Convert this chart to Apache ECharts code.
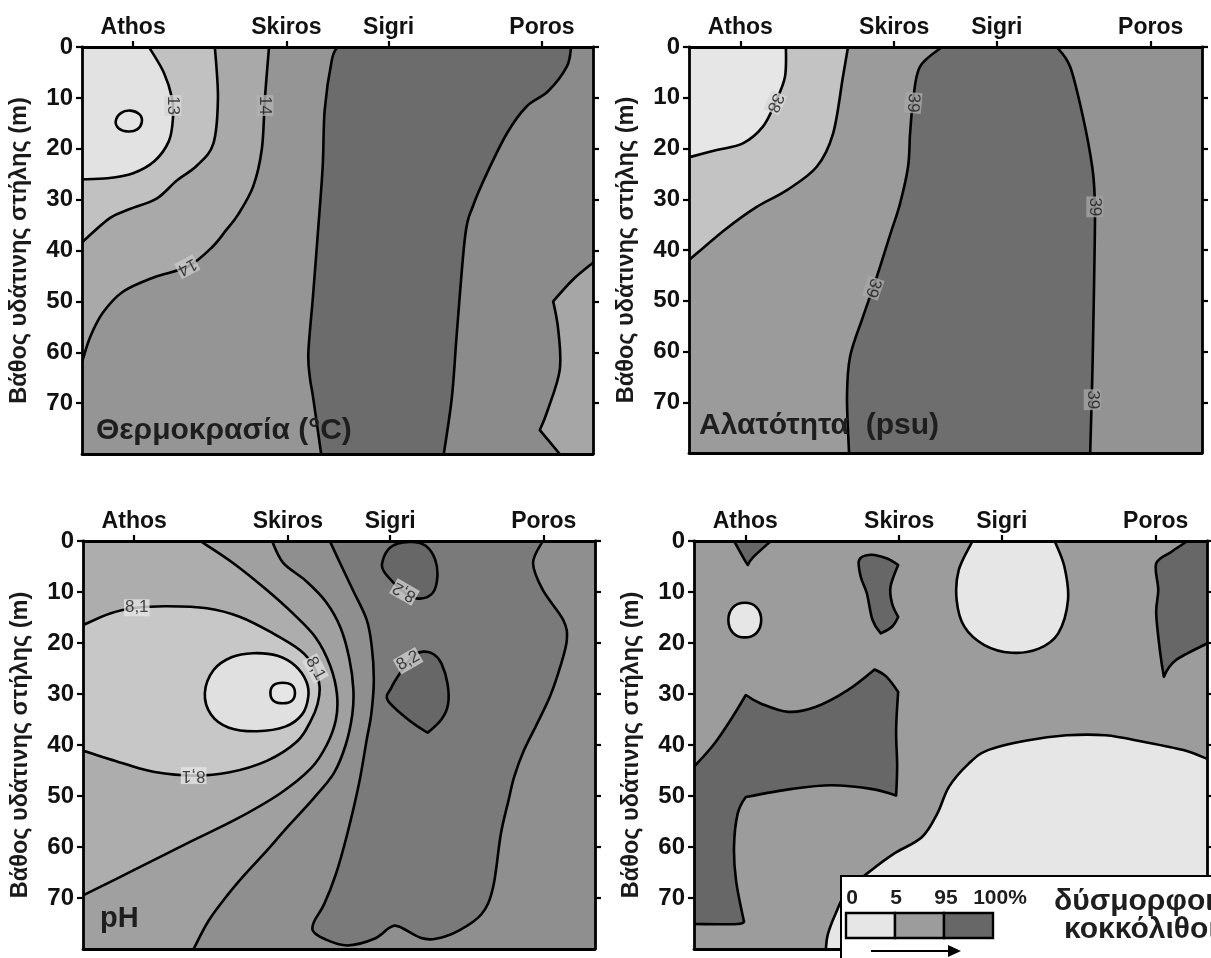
<!DOCTYPE html>
<html><head><meta charset="utf-8">
<script src="https://cdn.jsdelivr.net/npm/echarts@6/dist/echarts.min.js"></script>
<style>html,body{margin:0;padding:0;background:#fff}#c{width:1211px;height:958px}</style>
</head><body><div id="c"></div>
<script>
// ---------- axes ----------
const stations = ['Athos', 'Skiros', 'Sigri', 'Poros'];
const stationPos = [10, 40, 60, 90];
const depthTicks = [0, 10, 20, 30, 40, 50, 60, 70];
const depthTitle = 'Βάθος υδάτινης στήλης (m)';

// ---------- panel 1: temperature contours [x, depth] ----------
const temp13 = [[13.1,0],[16,5],[17.6,10],[17.8,14],[17,18.5],[14.2,22.4],[10,24.8],[5,25.8],[0,26]];
const temp13in = [[9.5,12.5],[11.3,13.3],[11.7,14.8],[10.8,16.2],[9,16.6],[7.2,16],[6.6,14.6],[7.6,13]];
const temp135 = [[26,0],[26.6,10],[25.7,19],[22.5,23.3],[18.5,26.3],[14.6,29.8],[9.5,31.8],[5.5,33.6],[0,38.4]];
const temp14 = [[36.6,0],[35.8,10],[35.2,20],[33.5,27.4],[30.5,33],[28.2,36],[25.5,39.3],[20.8,43.1],[14,45.3],[8,48.1],[4.1,52.2],[1.6,57],[0,62]];
const temp145 = [[50,0],[48.9,2.5],[47.5,12.3],[47.1,23.5],[46.2,36],[45.2,49],[44.3,60],[44.6,65],[45.2,68.7],[46.8,80]];
const temp15 = [[95.7,0],[94.9,3.8],[91.2,8.7],[87,11.7],[83.2,16.9],[79.3,24.7],[76.5,31.3],[75,37],[73.4,55.6],[72.4,68.7],[70.8,80]];
const temp145b = [[100,42.4],[96.1,45.7],[92.2,50,1],[93.2,55.6],[93.5,63.4],[91.2,71.2],[89.6,75.3,1],[93.5,80]];
const tempLabels = [['13',17.8,11.5,-90],['14',35.8,11.5,-90],['14',20.6,43.2,-152]];

// ---------- panel 2: salinity ----------
const sal38 = [[18.9,0],[18.7,5.9],[16.8,11],[14.4,15.7],[10.5,19],[5.4,20.3],[0.5,21.6],[0,21.7]];
const sal385 = [[31,0],[30,5.9],[28.1,17],[24.9,23.6],[19.1,28.2],[13.2,31.5],[7,36],[0,42]];
const sal39l = [[49.3,0],[45,3.9],[43.7,10.4],[43.1,17],[42.7,23.6],[41.1,31],[39.2,37],[36.6,45.3],[33.9,53.2],[31.4,61],[30.8,69],[31.2,80]];
const sal39r = [[71.7,0],[74.3,3.9],[76.8,13.8],[78.6,23.6],[79.1,30],[79.1,38],[78.8,55.8],[78.6,65.6],[78.2,80]];
const salLabels = [['38',16.8,11,-114],['39',43.7,11,-95],['39',35.9,47.5,-109],['39',79.1,31.5,-90],['39',78.6,69.5,-90]];

// ---------- panel 3: pH ----------
const phA = [[0,16.5],[5.3,14.2],[10.5,13.1],[16.4,12.8],[24.2,13.2],[30.7,14.9],[37.1,18.1],[42.4,21.4],[45,24.5],[46.2,28.5],[45.8,32],[44.5,35.2],[41.9,39.2],[35.9,43.1],[28.4,45.4],[21.6,46],[14,45.3],[8.1,43.7],[0,41.1]];
const phIn = [[23.8,29.8],[25.5,25.3],[29,22.8],[33.2,22],[38,22.5],[41.5,24.5],[43.6,27.5],[44,30.5],[42.8,34],[39.5,36.4],[34,37.3],[28.5,36.6],[25,34]];
const phCore = [[39,27.8],[40.8,28.3],[41.4,29.8],[40.8,31.3],[39,31.8],[37.2,31.3],[36.6,29.8],[37.2,28.3]];
const phB = [[22.9,0],[29.3,4.3],[35.9,9.6],[41,14.2],[45.5,19],[48.3,24.5],[49.6,30],[49.4,35],[47.6,40],[44.5,44.6],[38.5,49.5],[30,54.5],[20.9,59],[10,64.5],[0,69.5]];
const phC = [[36.9,0],[39.1,4.3],[43.5,7.8],[47.5,12],[50.3,17],[52,23],[52.8,29],[52.6,34],[51.3,40],[49,45.5],[45,50.5],[40,56],[35.9,60.7],[31.5,65.5],[28.4,69.2],[24.5,74.5],[21.6,80]];
const phDarkLeft = [[48.2,0],[50.2,4.3],[52.7,9.6],[55.4,15.4],[56.4,20.7],[56.8,27.3],[56.3,34],[55.4,39],[53.9,47.6],[51.6,57.5],[49.4,65.3],[47.1,71.2],[45.2,74.5],[44.9,76.4],[47.1,78]];
const phDarkRight = [[51.6,79.3],[56.9,78],[59.9,75.8],[61.7,75.6],[65.9,77.8],[68.9,78],[73.4,76.4],[77.9,73.1],[80.1,67.9],[81.6,57.5],[83.1,50.9],[84.2,46.3],[86.1,41.1],[88.6,36],[91.2,30.5],[93.2,24.7],[94.5,19.4],[93.8,15.5],[89.8,9.6],[87.9,4.3],[89.8,0]];
const phP1 = [[58.4,4.5],[59.5,1.8],[61.5,0.5],[64.5,0.2],[67,1],[68.8,3.7],[69.2,7.2],[68.3,10.2],[65.8,11.3],[63.2,10.4],[60.5,8],[58.8,6]];
const phP2 = [[62,25.8],[64.5,22.5],[66.5,21.7],[68.5,22.2],[70,24],[71.2,28],[71.3,32],[70,35],[67.3,37.6,1],[63.5,35],[59.5,31.2],[60.2,28.8]];
const phLabels = [['8,1',10.5,13.1,0],['8,1',45.4,25,-62],['8,1',21.6,46,180],['8,2',62.8,10,150],['8,2',63.5,23.5,30]];

// ---------- panel 4: deformed coccoliths ----------
const defDark = [[0,44.3],[4,39.7],[7.5,34.5],[10.1,30.2,1],[13.1,31.9],[18.4,33.5],[23.8,32.5],[29.9,29.3],[35.2,25.2,1],[37.5,26.6],[39.8,29.6,1],[39.4,37.1],[39.6,44],[39.4,49.9,1],[34.5,48.6],[26.8,47.9],[19.2,48.6],[10.1,50.2,1],[8.5,53.5],[7.8,60],[8.2,66.6],[9.7,74.4,1],[8.5,75.1],[0,75.1]];
const defLight = [[100,42.7],[95.4,41],[87.8,39.4],[80.2,38.1],[72.6,38.1],[64.9,39.1],[57.3,41],[53.5,43.7],[49.7,48.2],[47.4,53.5],[44.4,58.1],[39,61.3],[34.5,64.6],[29.9,68.5],[27.6,73.1],[26.1,77.1],[25.7,80]];
const defSigri = [[54.3,0],[51.6,5.7],[51.2,11.6],[52.7,16.8],[56.6,20.4],[61.9,21.9],[67.2,21.1],[71,18.1],[72.9,11.6],[72.2,5],[70.3,0]];
const defCircle = [[9.9,12.1],[12.2,13],[13.1,15.5],[12.2,18],[9.9,18.9],[7.6,18],[6.7,15.5],[7.6,13]];
const defAthos = [[7.8,0],[9.8,3.6],[10.5,4.7,1],[11.5,3.2],[15,0]];
const defSkiros = [[32.2,3.7],[34.5,2.7],[37.5,3.4],[39.8,4.7,1],[38.3,9],[38.6,12.2],[39.8,14.9,1],[38.6,16.8],[36.4,18.1,1],[34.8,15.5],[33.7,10.3],[32.5,7]];
const defPoros = [[96.2,0],[93.1,2.1],[90.1,4.4],[90.5,9.6],[90.1,14.2],[90.9,22.1],[91.6,26.6,1],[93.9,23.4],[100,20.1]];
const legendClasses = ['0', '5', '95', '100%'];

// ---------- drawing helpers ----------
function smoothPath(P, closed, sharp) {
  const n = P.length;
  const get = i => closed ? P[(i + n) % n] : P[Math.max(0, Math.min(n - 1, i))];
  let d = 'M' + P[0][0] + ' ' + P[0][1];
  const segs = closed ? n : n - 1;
  for (let i = 0; i < segs; i++) {
    const p0 = get(i - 1), p1 = get(i), p2 = get(i + 1), p3 = get(i + 2);
    const s1 = sharp[i % n] ? 0 : 1 / 6, s2 = sharp[(i + 1) % n] ? 0 : 1 / 6;
    const c1 = [p1[0] + (p2[0] - p0[0]) * s1, p1[1] + (p2[1] - p0[1]) * s1];
    const c2 = [p2[0] - (p3[0] - p1[0]) * s2, p2[1] - (p3[1] - p1[1]) * s2];
    d += 'C' + c1[0] + ' ' + c1[1] + ' ' + c2[0] + ' ' + c2[1] + ' ' + p2[0] + ' ' + p2[1];
  }
  return d;
}
function makeRender(layers) {
  return function (params, api) {
    const L = layers[params.dataIndex];
    const cs = params.coordSys;
    const clip = { type: 'rect', shape: { x: cs.x, y: cs.y, width: cs.width, height: cs.height } };
    if (L.base) {
      return { type: 'rect', shape: { x: cs.x, y: cs.y, width: cs.width, height: cs.height }, style: { fill: L.fill } };
    }
    const src = L.loop || L.line;
    const P = src.map(p => api.coord([p[0], p[1]]));
    const sharp = src.map(p => !!p[2]);
    let d = smoothPath(P, !!L.loop, sharp);
    if (L.line) (L.close || []).forEach(q => { const c = api.coord(q); d += 'L' + c[0] + ' ' + c[1]; });
    d += 'Z';
    return { type: 'path', shape: { pathData: d }, clipPath: clip,
      style: { fill: L.fill, stroke: '#000', lineWidth: 2.6, lineJoin: 'round' } };
  };
}

const panels = [
  { layers: [
      { base: true, fill: '#8b8b8b' },
      { line: temp15, close: [[70.8,120],[-40,120],[-40,-40],[95.7,-40]], fill: '#6c6c6c' },
      { line: temp145b, close: [[93.5,120],[140,120],[140,42.4]], fill: '#a6a6a6' },
      { line: temp145, close: [[46.8,120],[-40,120],[-40,-40],[50,-40]], fill: '#959595' },
      { line: temp14, close: [[-40,62],[-40,-40],[36.6,-40]], fill: '#a9a9a9' },
      { line: temp135, close: [[-40,38.4],[-40,-40],[26,-40]], fill: '#c1c1c1' },
      { line: temp13, close: [[-40,26],[-40,-40],[13.1,-40]], fill: '#e2e2e2' },
      { loop: temp13in, fill: '#e4e4e4' }
    ], labels: tempLabels, labelBg: ['#d6d6d6', '#b0b0b0', '#c8c8c8'] },
  { layers: [
      { base: true, fill: '#939393' },
      { line: sal39r, close: [[78.2,120],[-40,120],[-40,-40],[71.7,-40]], fill: '#6e6e6e' },
      { line: sal39l, close: [[31.2,120],[-40,120],[-40,-40],[49.3,-40]], fill: '#9b9b9b' },
      { line: sal385, close: [[-40,42],[-40,-40],[31,-40]], fill: '#c3c3c3' },
      { line: sal38, close: [[-40,21.7],[-40,-40],[18.9,-40]], fill: '#e6e6e6' }
    ], labels: salLabels, labelBg: ['#d8d8d8', '#a8a8a8', '#a8a8a8', '#a4a4a4', '#a4a4a4'] },
  { layers: [
      { base: true, fill: '#8f8f8f' },
      { line: phDarkLeft.concat(phDarkRight), close: [[89.8,-40],[48.2,-40]], fill: '#7a7a7a' },
      { line: phC, close: [[21.6,120],[-40,120],[-40,-40],[36.9,-40]], fill: '#a0a0a0' },
      { line: phB, close: [[-40,69.5],[-40,-40],[22.9,-40]], fill: '#adadad' },
      { line: phA, close: [[-40,41.1],[-40,16.5]], fill: '#c7c7c7' },
      { loop: phIn, fill: '#e0e0e0' },
      { loop: phCore, fill: '#e6e6e6' },
      { loop: phP1, fill: '#676767' },
      { loop: phP2, fill: '#676767' }
    ], labels: phLabels, labelBg: ['#e4e4e4', '#dcdcdc', '#e4e4e4', '#d0d0d0', '#d0d0d0'] },
  { layers: [
      { base: true, fill: '#9c9c9c' },
      { line: defDark, close: [[-40,75.1],[-40,44.3]], fill: '#676767' },
      { line: defLight, close: [[25.7,120],[140,120],[140,42.7]], fill: '#e6e6e6' },
      { line: defSigri, close: [[70.3,-40],[54.3,-40]], fill: '#e6e6e6' },
      { line: defPoros, close: [[140,20.1],[140,-40],[96.2,-40]], fill: '#676767' },
      { line: defAthos, close: [[15,-40],[7.8,-40]], fill: '#676767' },
      { loop: defSkiros, fill: '#676767' },
      { loop: defCircle, fill: '#e6e6e6' }
    ], labels: [], labelBg: [] }
];

const grids = [
  { left: 82, top: 47, width: 511, height: 407 },
  { left: 689, top: 47, width: 513, height: 406 },
  { left: 83, top: 541, width: 512, height: 408 },
  { left: 694, top: 541, width: 513, height: 408 }
];
const FONT = "'Liberation Sans', Arial, sans-serif";
const axisLine = { show: true, onZero: false, lineStyle: { color: '#000', width: 2.8 } };
const tick = { length: 6, lineStyle: { color: '#000', width: 2.2 } };

const xAxis = [], yAxis = [], series = [];
grids.forEach((g, i) => {
  xAxis.push({ gridIndex: i, type: 'value', position: 'top', min: 0, max: 100, z: 10,
    axisLine, splitLine: { show: false },
    axisTick: Object.assign({ customValues: stationPos }, tick),
    axisLabel: { customValues: stationPos, formatter: v => stations[stationPos.indexOf(v)] || '',
      fontSize: 23, fontWeight: 'bold', color: '#111', fontFamily: FONT, margin: 8 } });
  xAxis.push({ gridIndex: i, type: 'value', position: 'bottom', min: 0, max: 100, z: 10,
    axisLine, splitLine: { show: false }, axisTick: { show: false }, axisLabel: { show: false } });
  yAxis.push({ gridIndex: i, type: 'value', position: 'left', inverse: true, min: 0, max: 80, interval: 10, z: 10,
    axisLine, splitLine: { show: false },
    axisTick: Object.assign({ customValues: depthTicks }, tick),
    axisLabel: { customValues: depthTicks, fontSize: 24, fontWeight: 'bold', color: '#111', fontFamily: FONT, margin: 9 },
    name: depthTitle, nameLocation: 'middle', nameGap: 50,
    nameTextStyle: { fontSize: 23.5, fontWeight: 'bold', color: '#1a1a1a', fontFamily: FONT } });
  yAxis.push({ gridIndex: i, type: 'value', position: 'right', inverse: true, min: 0, max: 80, interval: 10, z: 10,
    axisLine, splitLine: { show: false },
    axisTick: Object.assign({ customValues: depthTicks }, tick), axisLabel: { show: false } });

  const p = panels[i];
  series.push({ type: 'custom', xAxisIndex: 2 * i, yAxisIndex: 2 * i, z: 2, silent: true,
    renderItem: makeRender(p.layers), data: p.layers.map(() => [50, 40]) });
  series.push({ type: 'scatter', xAxisIndex: 2 * i, yAxisIndex: 2 * i, z: 4, silent: true,
    symbolSize: 1, itemStyle: { color: 'rgba(0,0,0,0)' },
    label: { show: true, position: 'inside', formatter: '{b}', fontSize: 17, color: '#1a1a1a', fontFamily: FONT },
    data: p.labels.map((l, k) => ({ name: l[0], value: [l[1], l[2]],
      label: { rotate: l[3], backgroundColor: p.labelBg[k], padding: [0, 1] } })) });
});

const txt = (x, y, text, size, weight, align, z) => ({ type: 'text', x, y, z: z || 100,
  style: { text, fontSize: size, fontWeight: weight, fontFamily: FONT, fill: '#1e1e1e',
    textAlign: align || 'left', textVerticalAlign: 'middle' } });

const graphic = [
  txt(96, 431, 'Θερμοκρασία (°C)', 30, 'bold'),
  txt(699, 426, 'Αλατότητα  (psu)', 30, 'bold'),
  txt(100, 919, 'pH', 29, 'bold'),
  { type: 'rect', z: 100, shape: { x: 841, y: 876, width: 420, height: 120 }, style: { fill: '#fff', stroke: '#000', lineWidth: 2 } },
  { type: 'rect', z: 101, shape: { x: 846, y: 913, width: 49, height: 25 }, style: { fill: '#e6e6e6', stroke: '#000', lineWidth: 2.4 } },
  { type: 'rect', z: 101, shape: { x: 895, y: 913, width: 49, height: 25 }, style: { fill: '#9c9c9c', stroke: '#000', lineWidth: 2.4 } },
  { type: 'rect', z: 101, shape: { x: 944, y: 913, width: 49, height: 25 }, style: { fill: '#676767', stroke: '#000', lineWidth: 2.4 } },
  { type: 'line', z: 101, shape: { x1: 871, y1: 951, x2: 950, y2: 951 }, style: { stroke: '#000', lineWidth: 2 } },
  { type: 'polygon', z: 101, shape: { points: [[948, 945], [961, 951], [948, 957]] }, style: { fill: '#000' } },
  txt(852, 898, legendClasses[0], 21, 'bold', 'center', 102),
  txt(896, 898, legendClasses[1], 21, 'bold', 'center', 102),
  txt(946, 898, legendClasses[2], 21, 'bold', 'center', 102),
  txt(1000, 898, legendClasses[3], 21, 'bold', 'center', 102),
  txt(1054, 902, 'δύσμορφοι', 30, 'bold', 'left', 102),
  txt(1064, 930, 'κοκκόλιθοι', 30, 'bold', 'left', 102)
];

const chart = echarts.init(document.getElementById('c'), null, { renderer: 'canvas' });
chart.setOption({
  animation: false,
  backgroundColor: '#fff',
  textStyle: { fontFamily: FONT },
  grid: grids.map(g => Object.assign({ containLabel: false }, g)),
  xAxis, yAxis, series, graphic
});
</script></body></html>
